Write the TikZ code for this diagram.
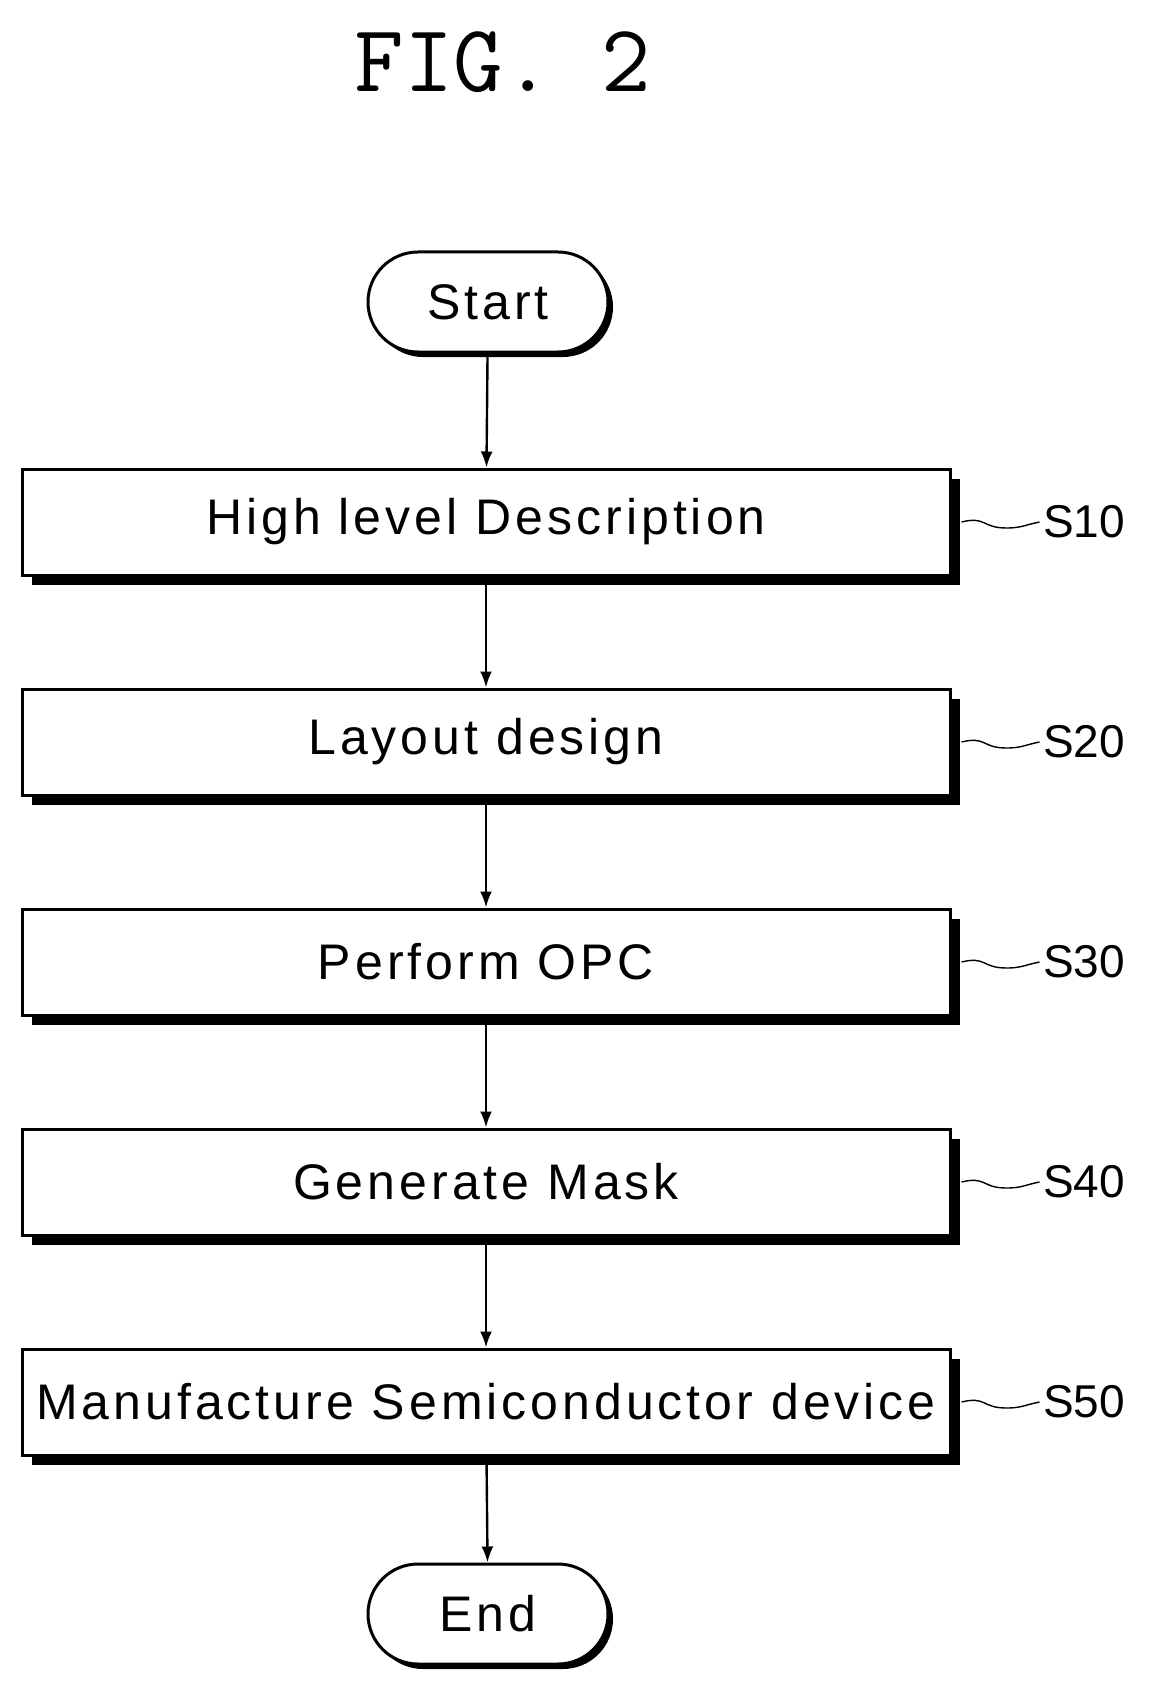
\documentclass[tikz,border=0pt]{standalone}
\usepackage{fontspec}
\setmainfont{Liberation Sans}
\usetikzlibrary{positioning,shadows,arrows.meta}

\begin{document}
\begin{tikzpicture}[x=1pt,y=-1pt,
block/.style = {rectangle, draw, line width=3pt, fill=white, minimum width=928pt,
	minimum height=106pt, font=\fontsize{50}{60}\selectfont\addfontfeature{LetterSpace=8},
	drop shadow={shadow xshift=10pt, shadow yshift=-10pt, fill=black, opacity=1}},
term/.style = {rectangle, rounded corners=50pt, draw, line width=3pt, fill=white,
	minimum width=240pt, minimum height=100pt, font=\fontsize{50}{60}\selectfont\addfontfeature{LetterSpace=8},
	drop shadow={shadow xshift=5pt, shadow yshift=-5pt, fill=black, opacity=1}},
tag/.style = {font=\fontsize{46}{56}\selectfont, anchor=west},
line/.style = {draw, line width=2.4pt, -{Latex[length=16pt,width=12pt]}}]

\useasboundingbox (0,0) rectangle (1155,1693);
\node[font=\fontsize{96}{110}\selectfont\ttfamily] (title) at (503,62) {FIG. 2};

\node [term] (start) at (488,302) {Start};
\node [block] (s10) at (486,522) {High level Description};
\node [block] (s20) at (486,742) {Layout design};
\node [block] (s30) at (486,962) {Perform OPC};
\node [block] (s40) at (486,1182) {Generate Mask};
\node [block] (s50) at (486,1402) {Manufacture Semiconductor device};
\node [term] (stop) at (488,1614) {End};

\begin{scope}[every path/.style=line]
\path (start) -- (s10);
\path (s10) -- (s20);
\path (s20) -- (s30);
\path (s30) -- (s40);
\path (s40) -- (s50);
\path (s50) -- (stop);
\end{scope}

% step labels
\foreach \s/\t in {s10/S10,s20/S20,s30/S30,s40/S40,s50/S50}{
	\node [tag] (l\s) at ([xshift=88pt]\s.east) {\t};
	\draw [line width=1.4pt] ([xshift=10pt]\s.east) .. controls +(25,-6) and +(-25,0) .. +(45,6)
		.. controls +(15,0) and +(-15,3) .. (l\s.west);
}
\end{tikzpicture}
\end{document}
